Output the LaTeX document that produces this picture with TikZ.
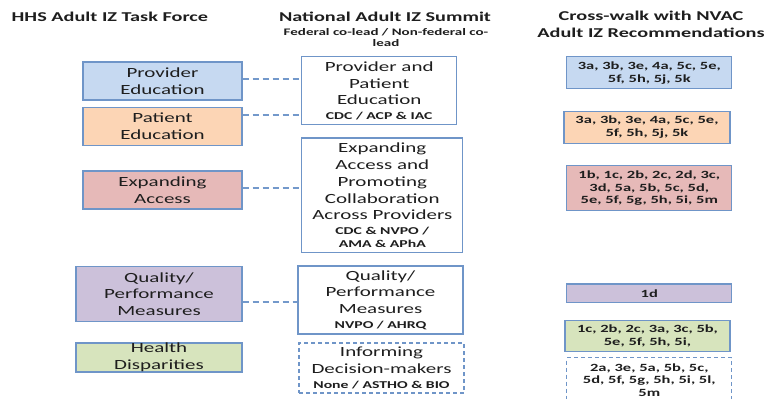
\documentclass[tikz,border=0pt]{standalone}
\usepackage{fontspec}
\setmainfont[FakeStretch=1.5]{Carlito}
\definecolor{boxline}{HTML}{6F95C8}
\definecolor{connline}{HTML}{7399CB}
\definecolor{txt}{HTML}{1E1E1E}
\definecolor{fblue}{HTML}{C6D9F1}
\definecolor{forange}{HTML}{FCD5B5}
\definecolor{fred}{HTML}{E6B9B8}
\definecolor{fpurple}{HTML}{CCC1DA}
\definecolor{fgreen}{HTML}{D7E4BD}
\tikzset{
  box/.style={draw=boxline, line width=1.3pt, inner sep=0pt, align=center, text=txt},
  lbox/.style={box, font=\fontsize{14}{16.8}\selectfont},
  rbox/.style={box, font=\bfseries\fontsize{11}{12.7}\selectfont},
  dbox/.style={dash pattern=on 4pt off 3pt},
  conn/.style={draw=connline, line width=1.5pt, dash pattern=on 6pt off 4pt},
  hdr/.style={text=txt, align=center, font=\bfseries\fontsize{13.5}{17.5}\selectfont, inner sep=0pt},
}
\newcommand{\subl}[1]{{\bfseries\fontsize{10.5}{12.5}\selectfont #1}}
\begin{document}
\begin{tikzpicture}[x=1pt,y=-1pt]
\useasboundingbox (0,0) rectangle (772,399);
\clip (0,0) rectangle (772,399);
\fill[white] (0,0) rectangle (772,399);

% headers
\node[hdr, anchor=west] (h1) at (11.5,16.7) {HHS Adult IZ Task Force};
\node[hdr] (h2) at (385,16.7) {National Adult IZ Summit};
\node[text=txt, align=center, inner sep=0pt, font=\bfseries\fontsize{10}{11.5}\selectfont] (h2s) at (386,37.5) {Federal co-lead / Non-federal co-\\lead};
\node[hdr] (h3) at (651,24.5) {Cross-walk with NVAC\\Adult IZ Recommendations};

% left column
\node[lbox, fill=fblue, minimum width=159pt, minimum height=38pt] (pe) at (162.5,81) {Provider\\Education};
\node[lbox, fill=forange, minimum width=159pt, minimum height=38.5pt] (pat) at (162.5,126.5) {Patient\\Education};
\node[lbox, fill=fred, minimum width=159pt, minimum height=38pt] (ea) at (162.5,190) {Expanding\\Access};
\node[lbox, fill=fpurple, minimum width=166pt, minimum height=55.5pt] (qpm) at (159,294) {Quality/\\Performance\\Measures};
\node[lbox, fill=fgreen, minimum width=166pt, minimum height=29pt] (hd) at (159,357.5) {Health\\Disparities};

% middle column
\node[lbox, fill=white, minimum width=155pt, minimum height=68pt] (m1) at (379.2,90.8) {Provider and\\Patient\\Education\\[-2pt]\subl{CDC / ACP \& IAC}};
\node[lbox, fill=white, minimum width=161pt, minimum height=114.5pt] (m2) at (382.3,195.3) {Expanding\\Access and\\Promoting\\Collaboration\\Across Providers\\[-2pt]\subl{CDC \& NVPO /}\\[-4pt]\subl{AMA \& APhA}};
\node[lbox, fill=white, minimum width=165pt, minimum height=68pt] (m3) at (380.5,300) {Quality/\\Performance\\Measures\\[-2pt]\subl{NVPO / AHRQ}};
\node[lbox, dbox, fill=white, minimum width=165pt, minimum height=50pt] (m4) at (381.5,368) {Informing\\Decision-makers\\[-2pt]\subl{None / ASTHO \& BIO}};

% right column
\node[rbox, fill=fblue, minimum width=165pt, minimum height=32pt] (r1) at (649.3,72.8) {3a, 3b, 3e, 4a, 5c, 5e,\\5f, 5h, 5j, 5k};
\node[rbox, fill=forange, minimum width=166pt, minimum height=32pt] (r2) at (647,127.2) {3a, 3b, 3e, 4a, 5c, 5e,\\5f, 5h, 5j, 5k};
\node[rbox, fill=fred, minimum width=165pt, minimum height=45pt] (r3) at (649.3,188.2) {1b, 1c, 2b, 2c, 2d, 3c,\\3d, 5a, 5b, 5c, 5d,\\5e, 5f, 5g, 5h, 5i, 5m};
\node[rbox, fill=fpurple, minimum width=165pt, minimum height=18.5pt] (r4) at (649.3,293.3) {1d};
\node[rbox, fill=fgreen, minimum width=165pt, minimum height=31pt] (r5) at (647.5,336.2) {1c, 2b, 2c, 3a, 3c, 5b,\\5e, 5f, 5h, 5i,};
\node[rbox, dbox, fill=white, minimum width=165pt, minimum height=45pt, anchor=north] (r6) at (649.3,357) {2a, 3e, 5a, 5b, 5c,\\5d, 5f, 5g, 5h, 5i, 5l,\\5m};

% connectors
\draw[conn] ([yshift=2pt]pe.east) -- ([yshift=2pt]pe.east -| m1.west);
\draw[conn] ([yshift=11.5pt]pat.east) -- ([yshift=11.5pt]pat.east -| m1.west);
\draw[conn] ([yshift=2pt]ea.east) -- ([yshift=2pt]ea.east -| m2.west);
\draw[conn] ([yshift=-8pt]qpm.east) -- ([yshift=-8pt]qpm.east -| m3.west);
\end{tikzpicture}
\end{document}
